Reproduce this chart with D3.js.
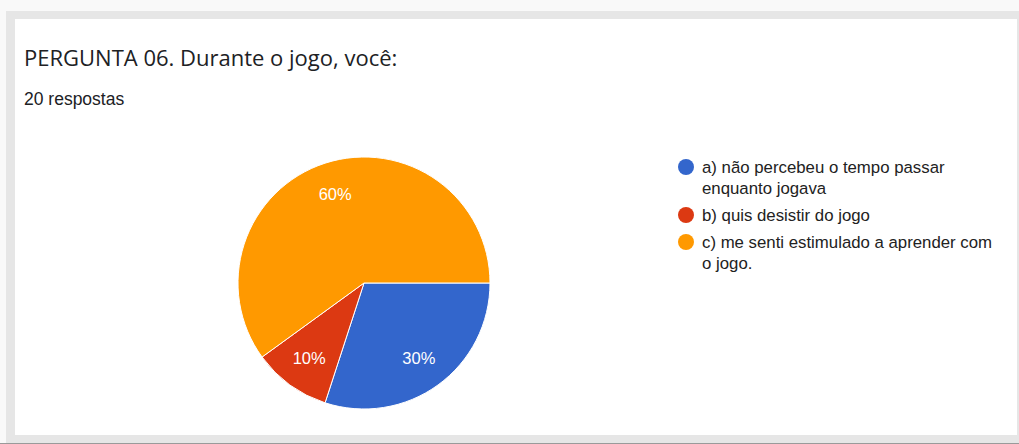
<!DOCTYPE html>
<html>
<head>
<meta charset="utf-8">
<script src="https://cdn.jsdelivr.net/npm/d3@7"></script>
<style>
  html, body { margin: 0; padding: 0; background: #fafafa; }
  svg { display: block; }
</style>
</head>
<body>
<svg id="chart" width="1019" height="444"></svg>
<script>
// Survey answers for question 06
const categories = [
  "a) não percebeu o tempo passar enquanto jogava",
  "b) quis desistir do jogo",
  "c) me senti estimulado a aprender com o jogo."
];
const legendLines = [
  ["a) não percebeu o tempo passar", "enquanto jogava"],
  ["b) quis desistir do jogo"],
  ["c) me senti estimulado a aprender com", "o jogo."]
];
const values = [6, 2, 12];           // responses out of 20
const colors = ["#3366cc", "#dc3912", "#ff9900"];
const title = "PERGUNTA 06. Durante o jogo, você:";
const subtitle = "20 respostas";

const svg = d3.select("#chart");
const W = 1019, H = 444;
const sans = "'Liberation Sans', Arial, sans-serif";

// card frame
svg.append("rect").attr("x", 0).attr("y", 0).attr("width", W).attr("height", H).attr("fill", "#f9f9f9");
svg.append("rect").attr("x", 6).attr("y", 11).attr("width", W - 6).attr("height", 432).attr("fill", "#e6e6e6");
svg.append("rect").attr("x", 0).attr("y", 443).attr("width", W).attr("height", 1).attr("fill", "#9a9a9a");
svg.append("rect").attr("x", 15).attr("y", 19).attr("width", 1002).attr("height", 416).attr("fill", "#ffffff");

// header
svg.append("text")
  .attr("x", 24).attr("y", 66)
  .attr("font-family", "'Open Sans', sans-serif")
  .attr("font-size", 22)
  .attr("fill", "#202124")
  .text(title);
svg.append("text")
  .attr("x", 24).attr("y", 105)
  .attr("font-family", sans)
  .attr("font-size", 17.5)
  .attr("fill", "#202124")
  .text(subtitle);

// pie
const cx = 364, cy = 283, r = 126;
const total = d3.sum(values);
const pie = d3.pie().sort(null).value(d => d)
  .startAngle(Math.PI / 2).endAngle(Math.PI / 2 + 2 * Math.PI);
const arcs = pie(values);
const arc = d3.arc().innerRadius(0).outerRadius(r);
const labelArc = d3.arc().innerRadius(r * 0.74).outerRadius(r * 0.74);

const g = svg.append("g").attr("transform", `translate(${cx},${cy})`);
g.selectAll("path").data(arcs).join("path")
  .attr("d", arc)
  .attr("fill", (d, i) => colors[i])
  .attr("stroke", "#ffffff")
  .attr("stroke-width", 1);

g.selectAll("text").data(arcs).join("text")
  .attr("transform", d => `translate(${labelArc.centroid(d)})`)
  .attr("text-anchor", "middle")
  .attr("dy", "0.36em")
  .attr("font-family", sans)
  .attr("font-size", 16.5)
  .attr("fill", "#ffffff")
  .text(d => Math.round(d.value / total * 100) + "%");

// legend
const legendX = 686, textX = 702, lineH = 21;
const rowY = [167, 215, 242];
const lg = svg.append("g");
legendLines.forEach((lines, i) => {
  lg.append("circle").attr("cx", legendX).attr("cy", rowY[i]).attr("r", 8).attr("fill", colors[i]);
  lines.forEach((ln, j) => {
    lg.append("text")
      .attr("x", textX).attr("y", rowY[i] + j * lineH)
      .attr("dy", "0.36em")
      .attr("font-family", sans)
      .attr("font-size", 16.8)
      .attr("fill", "#222222")
      .text(ln);
  });
});
</script>
</body>
</html>
